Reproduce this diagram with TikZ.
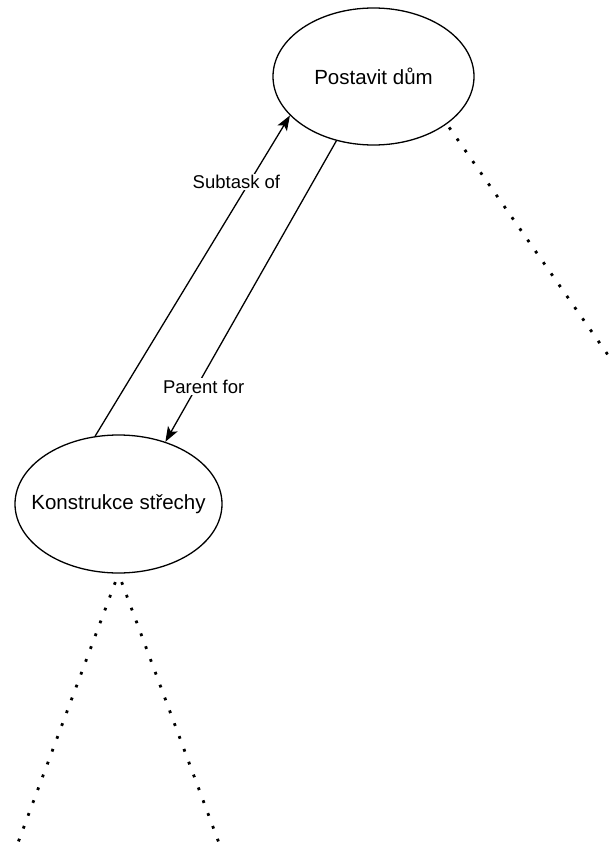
\documentclass[tikz,border=0pt]{standalone}
\usepackage{fontspec}
\setmainfont{Liberation Sans}
\usetikzlibrary{shapes.geometric,arrows.meta}
\begin{document}
\begin{tikzpicture}[x=1pt,y=-1pt,
  task/.style={ellipse,draw,line width=1.3pt,inner sep=0pt},
  tasktext/.style={label={[font=\fontsize{20.5}{24}\selectfont]center:#1}},
  rel/.style={draw,line width=1.3pt,-{Stealth[length=15pt,width=11pt,inset=3.5pt]}},
  lbl/.style={fill=white,inner sep=1.5pt,font=\fontsize{18.5}{22}\selectfont},
  dots/.style={draw,line width=2.8pt,dash pattern=on 2.8pt off 10.9pt}]
\useasboundingbox (0,0) rectangle (608,850);
\fill[white] (0,0) rectangle (608,850);
\node[task,minimum width=201pt,minimum height=137pt,tasktext={Postavit dům}] (top) at (373.5,76.5) {};
\node[task,minimum width=207pt,minimum height=138pt,tasktext={Konstrukce střechy}] (bot) at (118.5,504) {};
\draw[rel] (bot.109.3) -- node[lbl,pos=0.792,xshift=-13pt] (l1) {Subtask of} (top.205.3);
\draw[rel] (top.240.9) -- node[lbl,pos=0.817,xshift=7pt] (l2) {Parent for} (bot.53.1);
\coordinate (e1) at (608,355);
\coordinate (e2) at (16,848);
\coordinate (e3) at (219,843);
\draw[dots,dash phase=-4pt] (top.327.6) -- (e1);
\draw[dots,dash phase=-9pt] (bot.south) -- (e2);
\draw[dots,dash phase=-9pt] (bot.south) -- (e3);
\end{tikzpicture}
\end{document}
